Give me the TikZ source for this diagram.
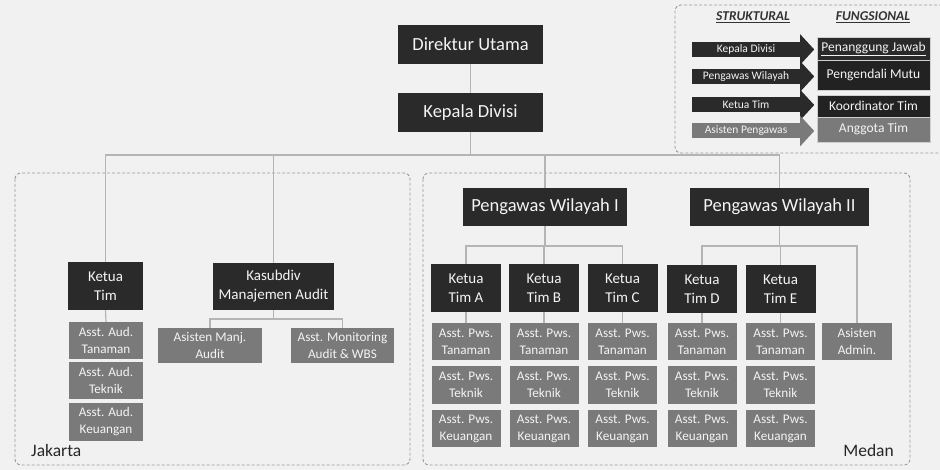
\documentclass[tikz,border=0pt]{standalone}
\usepackage{fontspec}
\setmainfont{Carlito}
\usetikzlibrary{calc}
\definecolor{dk}{HTML}{2A2A2A}
\definecolor{gy}{HTML}{7A7A7A}
\definecolor{bg}{HTML}{F1F1F1}
\definecolor{ln}{HTML}{B4B4B4}
\definecolor{dsh}{HTML}{9A9A9A}
\definecolor{txt}{HTML}{F4F4F4}
\begin{document}
\begin{tikzpicture}[x=1pt,y=-1pt,
  base/.style={inner sep=0pt, align=center, text=txt},
  big/.style={base, fill=dk, font=\fontsize{18.5}{21}\selectfont},
  lead/.style={base, fill=dk, minimum width=70, minimum height=48, font=\fontsize{15}{19}\selectfont},
  asst/.style={base, fill=gy, font=\fontsize{13.2}{17}\selectfont},
  conn/.style={draw=ln, line width=1.2pt},
  area/.style={draw=dsh, dash pattern=on 3pt off 2pt, line width=0.9pt, rounded corners=6pt},
  place/.style={inner sep=0pt, text=black!85, font=\fontsize{17.5}{20}\selectfont},
  legarrow/.style={base, minimum width=108, minimum height=15, font=\fontsize{11.5}{13}\selectfont},
  legbox/.style={base, minimum width=113, font=\fontsize{13.5}{15}\selectfont, draw=bg!70!gray, line width=0.5pt},
  leghead/.style={inner sep=0pt, text=black!80, font=\fontsize{13.5}{15}\selectfont\bfseries\itshape}
]
\fill[bg] (0,0) rectangle (940,470);
\useasboundingbox (0,0) rectangle (940,470);

% areas
\draw[area] (15,173) rectangle (410,465);
\draw[area] (423,173) rectangle (910,465);
\node[place, anchor=west] (jkt) at (31,450) {Jakarta};
\node[place, anchor=east] (mdn) at (894,450) {Medan};

% top
\node[big, minimum width=145, minimum height=39] (du) at (470.5,44.5) {Direktur Utama};
\node[big, minimum width=145, minimum height=39] (kd) at (470.5,112.5) {Kepala Divisi};

% Jakarta
\node[lead, minimum width=75, minimum height=48] (kt) at (105.5,286) {Ketua\\Tim};
\node[lead, minimum width=121, minimum height=47] (ks) at (273.5,286.5) {Kasubdiv\\Manajemen Audit};
\node[asst, minimum width=74, minimum height=37] (at1) at (106,340.5) {Asst. Aud.\\Tanaman};
\node[asst, minimum width=74, minimum height=37] (at2) at (106,380.5) {Asst. Aud.\\Teknik};
\node[asst, minimum width=74, minimum height=38] (at3) at (106,422) {Asst. Aud.\\Keuangan};
\node[asst, minimum width=104, minimum height=35] (am) at (210,345.5) {Asisten Manj.\\Audit};
\node[asst, minimum width=103, minimum height=35] (amon) at (342.5,345.5) {Asst. Monitoring\\Audit \& WBS};

% Medan
\node[big, minimum width=164, minimum height=38] (pw1) at (545,207) {Pengawas Wilayah I};
\node[big, minimum width=179, minimum height=38] (pw2) at (779.5,207) {Pengawas Wilayah II};
\node[lead] (ka) at (466,288) {Ketua\\Tim A};
\node[lead] (kb) at (544,288) {Ketua\\Tim B};
\node[lead] (kc) at (622.5,288) {Ketua\\Tim C};
\node[lead] (kdd) at (702,289) {Ketua\\Tim D};
\node[lead] (ke) at (780.5,289) {Ketua\\Tim E};
\foreach \n/\x in {a/466,b/544,c/622.5,d/702,e/780.5}{
  \node[asst, minimum width=69, minimum height=37] (\n1) at (\x,341.5) {Asst. Pws.\\Tanaman};
  \node[asst, minimum width=69, minimum height=38] (\n2) at (\x,385) {Asst. Pws.\\Teknik};
  \node[asst, minimum width=69, minimum height=37] (\n3) at (\x,428.5) {Asst. Pws.\\Keuangan};
}
\node[asst, minimum width=70, minimum height=37] (adm) at (857,341.5) {Asisten\\Admin.};

% connectors
\coordinate (bus) at (0,155);
\coordinate (busj) at (0,319);
\coordinate (busm) at (0,246);
\draw[conn] (du.south) -- (kd.north);
\draw[conn] (kd.south) -- (kd.south |- bus);
\draw[conn] (kt.north) |- (pw2.north |- bus) -- (pw2.north);
\draw[conn] (ks.north) -- (ks.north |- bus);
\draw[conn] (pw1.north) -- (pw1.north |- bus);
\draw[conn] (kt.south) -- (at1.north);
\draw[conn] (ks.south) -- (ks.south |- busj);
\draw[conn] (am.north) |- (amon.north |- busj) -- (amon.north);
\draw[conn] (pw1.south) -- (pw1.south |- busm);
\draw[conn] (ka.north) |- (kc.north |- busm) -- (kc.north);
\draw[conn] (kb.north) -- (kb.north |- busm);
\draw[conn] (pw2.south) -- (pw2.south |- busm);
\draw[conn] (kdd.north) |- (adm.north |- busm) -- (adm.north);
\draw[conn] (ke.north) -- (ke.north |- busm);
\draw[conn] (ka.south) -- (a1.north);
\draw[conn] (kb.south) -- (b1.north);
\draw[conn] (kc.south) -- (c1.north);
\draw[conn] (kdd.south) -- (d1.north);
\draw[conn] (ke.south) -- (e1.north);

% legend
\draw[area] (942,5) -- (675,5) -- (675,153) -- (942,153);
\node[leghead] (hs) at (753,17) {\underline{STRUKTURAL}};
\node[leghead] (hf) at (873,17) {\underline{FUNGSIONAL}};
\foreach \n/\y/\c/\t in {s1/49.5/dk/Kepala Divisi, s2/76.5/dk/Pengawas Wilayah, s3/105/dk/Ketua Tim, s4/131/gy/Asisten Pengawas}{
  \node[legarrow, fill=\c] (\n) at (746,\y) {\t};
  \fill[\c] ([yshift=7.5pt]\n.north east) -- ([xshift=14pt]\n.east) -- ([yshift=-7.5pt]\n.south east) -- cycle;
}
\node[legbox, fill=dk, minimum height=23] (f1) at (873.5,48.5) {\underline{Penanggung Jawab}};
\node[legbox, fill=dk!80!black, minimum height=30] (f2) at (873.5,75) {Pengendali Mutu};
\node[legbox, fill=dk!80!black, minimum height=22] (f3) at (873.5,106) {Koordinator Tim};
\node[legbox, fill=gy, minimum height=25] (f4) at (873.5,129.5) {Anggota Tim};
\end{tikzpicture}
\end{document}
